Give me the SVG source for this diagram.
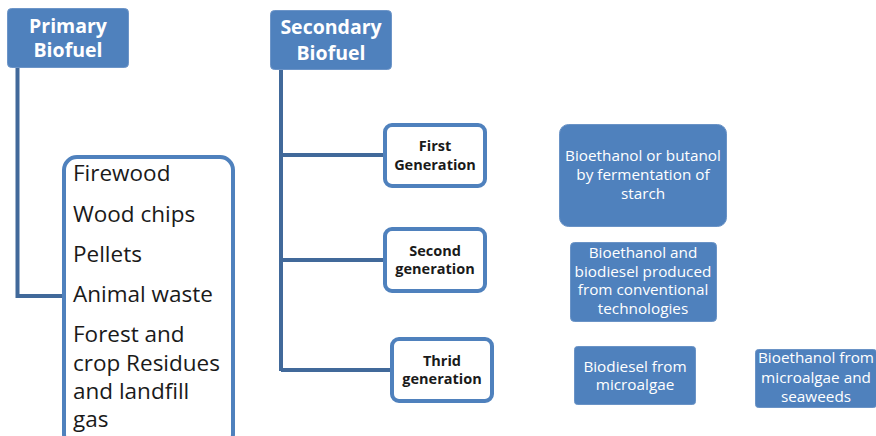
<svg xmlns="http://www.w3.org/2000/svg" width="876" height="436" viewBox="0 0 876 436">
  <style>
    .head { fill: #4F81BD; stroke: #6D95C8; stroke-width: 1; }
    .headtxt { font-family: "Open Sans", "Liberation Sans", sans-serif; font-weight: bold; font-size: 19.5px; fill: #FFFFFF; text-anchor: middle; }
    .gen { fill: #FFFFFF; stroke: #4F81BD; stroke-width: 4; }
    .gentxt { font-family: "Open Sans", "Liberation Sans", sans-serif; font-weight: bold; font-size: 14.5px; fill: #1A1A1A; text-anchor: middle; }
    .out { fill: #4F81BD; stroke: #6A93C6; stroke-width: 1; }
    .outtxt { font-family: "Open Sans", "Liberation Sans", sans-serif; font-size: 15.3px; fill: #FFFFFF; text-anchor: middle; }
    .list { fill: #FFFFFF; stroke: #4F81BD; stroke-width: 4; }
    .listtxt { font-family: "Open Sans", "Liberation Sans", sans-serif; font-size: 22.5px; fill: #1A1A1A; }
    .conn { fill: none; stroke: #41699A; stroke-width: 4; }
  </style>

  <!-- connectors -->
  <g id="connectors">
    <polyline class="conn" points="17.5,68 17.5,296 63,296"/>
    <polyline class="conn" points="281,70 281,371"/>
    <line class="conn" x1="281" y1="155" x2="385" y2="155"/>
    <line class="conn" x1="281" y1="260" x2="385" y2="260"/>
    <line class="conn" x1="281" y1="370" x2="391" y2="370"/>
  </g>

  <g id="primary">
    <rect class="head" x="7.5" y="8.5" width="121" height="59" rx="4"/>
    <text class="headtxt" x="68" y="33">Primary</text>
    <text class="headtxt" x="68" y="57">Biofuel</text>
  </g>

  <g id="secondary">
    <rect class="head" x="270.5" y="10.5" width="121" height="59" rx="4"/>
    <text class="headtxt" x="331" y="34">Secondary</text>
    <text class="headtxt" x="331" y="60">Biofuel</text>
  </g>

  <g id="primary-list">
    <rect class="list" x="64" y="157" width="169" height="290" rx="13"/>
    <text class="listtxt" x="73" y="181">Firewood</text>
    <text class="listtxt" x="73" y="222">Wood chips</text>
    <text class="listtxt" x="73" y="262">Pellets</text>
    <text class="listtxt" x="73" y="302">Animal waste</text>
    <text class="listtxt" x="73" y="342">Forest and</text>
    <text class="listtxt" x="73" y="371">crop Residues</text>
    <text class="listtxt" x="73" y="399">and landfill</text>
    <text class="listtxt" x="73" y="427">gas</text>
  </g>

  <g id="first-generation">
    <rect class="gen" x="385" y="125" width="100" height="61" rx="7"/>
    <text class="gentxt" x="435" y="151">First</text>
    <text class="gentxt" x="435" y="170">Generation</text>
  </g>

  <g id="second-generation">
    <rect class="gen" x="385" y="229" width="100" height="62" rx="7"/>
    <text class="gentxt" x="435" y="256">Second</text>
    <text class="gentxt" x="435" y="274">generation</text>
  </g>

  <g id="third-generation">
    <rect class="gen" x="392" y="339" width="100" height="62" rx="7"/>
    <text class="gentxt" x="442" y="366">Thrid</text>
    <text class="gentxt" x="442" y="384">generation</text>
  </g>

  <g id="first-output">
    <rect class="out" x="559.5" y="124.5" width="167" height="102" rx="9"/>
    <text class="outtxt" x="643" y="161">Bioethanol or butanol</text>
    <text class="outtxt" x="643" y="180">by fermentation of</text>
    <text class="outtxt" x="643" y="199">starch</text>
  </g>

  <g id="second-output">
    <rect class="out" x="570.5" y="242.5" width="146" height="79" rx="4"/>
    <text class="outtxt" x="643" y="258">Bioethanol and</text>
    <text class="outtxt" x="643" y="277">biodiesel produced</text>
    <text class="outtxt" x="643" y="295">from conventional</text>
    <text class="outtxt" x="643" y="314">technologies</text>
  </g>

  <g id="third-output-a">
    <rect class="out" x="574.5" y="346.5" width="121" height="58" rx="3"/>
    <text class="outtxt" x="635" y="372">Biodiesel from</text>
    <text class="outtxt" x="635" y="390">microalgae</text>
  </g>

  <g id="third-output-b">
    <rect class="out" x="755.5" y="349.5" width="121" height="58" rx="3"/>
    <text class="outtxt" x="816" y="363">Bioethanol from</text>
    <text class="outtxt" x="816" y="383">microalgae and</text>
    <text class="outtxt" x="816" y="402">seaweeds</text>
  </g>
</svg>
